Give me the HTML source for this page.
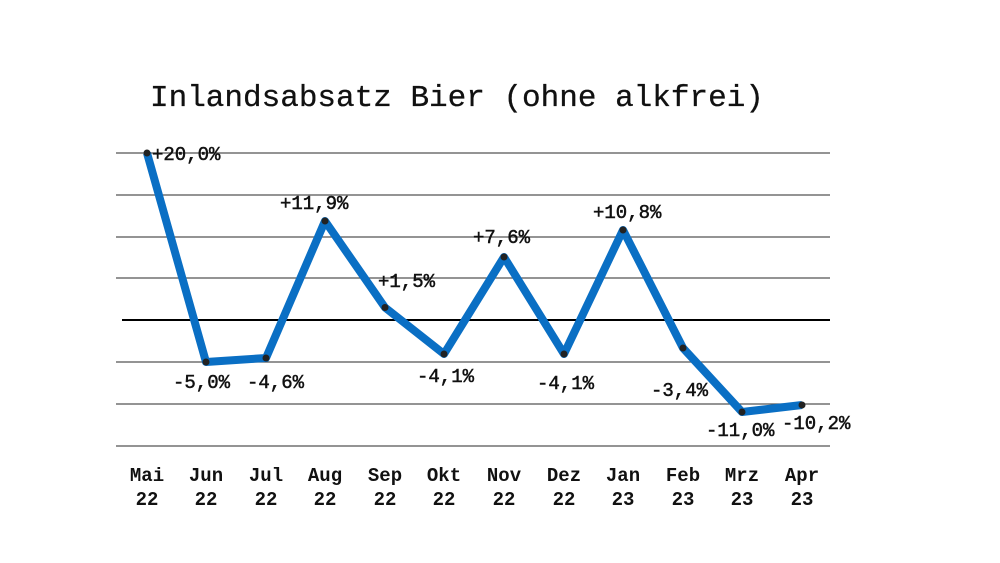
<!DOCTYPE html>
<html><head><meta charset="utf-8"><style>
html,body{margin:0;padding:0;background:#fff;}
svg{display:block;}
text{font-family:"Liberation Mono","DejaVu Sans Mono",monospace;fill:#111;}
</style></head><body>
<svg width="1000" height="563" viewBox="0 0 1000 563">
<text x="150" y="106" font-size="31" stroke="#111" stroke-width="0.3">Inlandsabsatz Bier (ohne alkfrei)</text>
<g stroke="#555" stroke-width="1.3">
<line x1="116" y1="153" x2="830" y2="153"/>
<line x1="116" y1="195" x2="830" y2="195"/>
<line x1="116" y1="237" x2="830" y2="237"/>
<line x1="116" y1="278" x2="830" y2="278"/>
<line x1="116" y1="362" x2="830" y2="362"/>
<line x1="116" y1="404" x2="830" y2="404"/>
<line x1="116" y1="446" x2="830" y2="446"/>
</g>
<line x1="122" y1="320" x2="830" y2="320" stroke="#000" stroke-width="2"/>
<polyline fill="none" stroke="#0a6fc4" stroke-width="8" stroke-linejoin="round" points="147,153 206,362 266,358 325,221 385,307.5 444,354 504,257 564,354 623,230 683,348 742,412 802,405"/>
<g fill="#222">
<circle cx="147" cy="153" r="3.5"/><circle cx="206" cy="362" r="3.5"/><circle cx="266" cy="358" r="3.5"/><circle cx="325" cy="221" r="3.5"/><circle cx="385" cy="307.5" r="3.5"/><circle cx="444" cy="354" r="3.5"/><circle cx="504" cy="257" r="3.5"/><circle cx="564" cy="354" r="3.5"/><circle cx="623" cy="230" r="3.5"/><circle cx="683" cy="348" r="3.5"/><circle cx="742" cy="412" r="3.5"/><circle cx="802" cy="405" r="3.5"/>
</g>
<g font-size="19" stroke="#111" stroke-width="0.5">
<text x="152" y="160">+20,0%</text>
<text x="280" y="209">+11,9%</text>
<text x="378" y="287">+1,5%</text>
<text x="473" y="243">+7,6%</text>
<text x="593" y="218">+10,8%</text>
<text x="173" y="388">-5,0%</text>
<text x="247" y="388">-4,6%</text>
<text x="417" y="382">-4,1%</text>
<text x="537" y="389">-4,1%</text>
<text x="651" y="396">-3,4%</text>
<text x="706" y="436">-11,0%</text>
<text x="782" y="429">-10,2%</text>
</g>
<g font-size="19" font-weight="bold" text-anchor="middle">
<text x="147" y="481">Mai</text><text x="147" y="505">22</text>
<text x="206" y="481">Jun</text><text x="206" y="505">22</text>
<text x="266" y="481">Jul</text><text x="266" y="505">22</text>
<text x="325" y="481">Aug</text><text x="325" y="505">22</text>
<text x="385" y="481">Sep</text><text x="385" y="505">22</text>
<text x="444" y="481">Okt</text><text x="444" y="505">22</text>
<text x="504" y="481">Nov</text><text x="504" y="505">22</text>
<text x="564" y="481">Dez</text><text x="564" y="505">22</text>
<text x="623" y="481">Jan</text><text x="623" y="505">23</text>
<text x="683" y="481">Feb</text><text x="683" y="505">23</text>
<text x="742" y="481">Mrz</text><text x="742" y="505">23</text>
<text x="802" y="481">Apr</text><text x="802" y="505">23</text>
</g>
</svg>
</body></html>
